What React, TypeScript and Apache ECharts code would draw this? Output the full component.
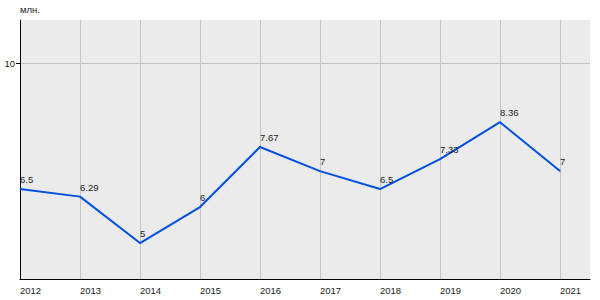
import React, { useEffect, useRef } from "react";
import * as echarts from "echarts";

const years = [2012, 2013, 2014, 2015, 2016, 2017, 2018, 2019, 2020, 2021];
const values = [6.5, 6.29, 5, 6, 7.67, 7, 6.5, 7.33, 8.36, 7];
const yTicks = [10];
const unitLabel = "млн.";

export default function App() {
  const ref = useRef<HTMLDivElement>(null);
  useEffect(() => {
    const chart = echarts.init(ref.current!, null, { renderer: "svg" });
    const font = "Liberation Sans, Arial, sans-serif";
    chart.setOption({
      animation: false,
      backgroundColor: "#ffffff",
      grid: {
        left: 20,
        right: 10,
        top: 20,
        bottom: 21,
        show: true,
        backgroundColor: "#ebebeb",
        borderWidth: 0,
      },
      xAxis: {
        type: "value",
        min: 2012,
        max: 2021.5,
        interval: 1,
        axisLine: { show: true, onZero: false, lineStyle: { color: "#000", width: 1 } },
        axisTick: { show: false },
        axisLabel: {
          color: "#222",
          fontFamily: font,
          fontSize: 9.5,
          align: "left",
          margin: 6,
          showMaxLabel: false,
          formatter: (v: number) => (Number.isInteger(v) ? String(v) : ""),
        },
        splitLine: {
          show: true,
          showMinLine: false,
          showMaxLine: false,
          lineStyle: { color: "#c4c4c4", width: 1 },
        },
      },
      yAxis: {
        type: "value",
        min: 4,
        max: 11.2,
        name: unitLabel,
        nameLocation: "end",
        nameGap: 6,
        nameTextStyle: { color: "#222", fontFamily: font, fontSize: 9.5, align: "left" },
        axisLine: { show: true, lineStyle: { color: "#000", width: 1 } },
        axisTick: { show: true, length: 4, customValues: yTicks, lineStyle: { color: "#000" } },
        axisLabel: {
          color: "#222",
          fontFamily: font,
          fontSize: 9.5,
          margin: 5,
          customValues: yTicks,
        },
        splitLine: { show: true, lineStyle: { color: "#c4c4c4", width: 1 } },
      },
      series: [
        {
          type: "line",
          data: years.map((y, i) => [y, values[i]]),
          symbol: "circle",
          symbolSize: 1,
          itemStyle: { color: "#0050e0" },
          lineStyle: { color: "#0050e0", width: 2 },
          label: {
            show: true,
            position: "top",
            align: "left",
            distance: 4,
            color: "#222",
            fontFamily: font,
            fontSize: 9.5,
            formatter: (p: any) => String(p.value[1]),
          },
        },
      ],
    });
    return () => chart.dispose();
  }, []);
  return (
    <div
      ref={ref}
      style={{ position: "fixed", left: 0, top: 0, width: 600, height: 300 }}
    />
  );
}
